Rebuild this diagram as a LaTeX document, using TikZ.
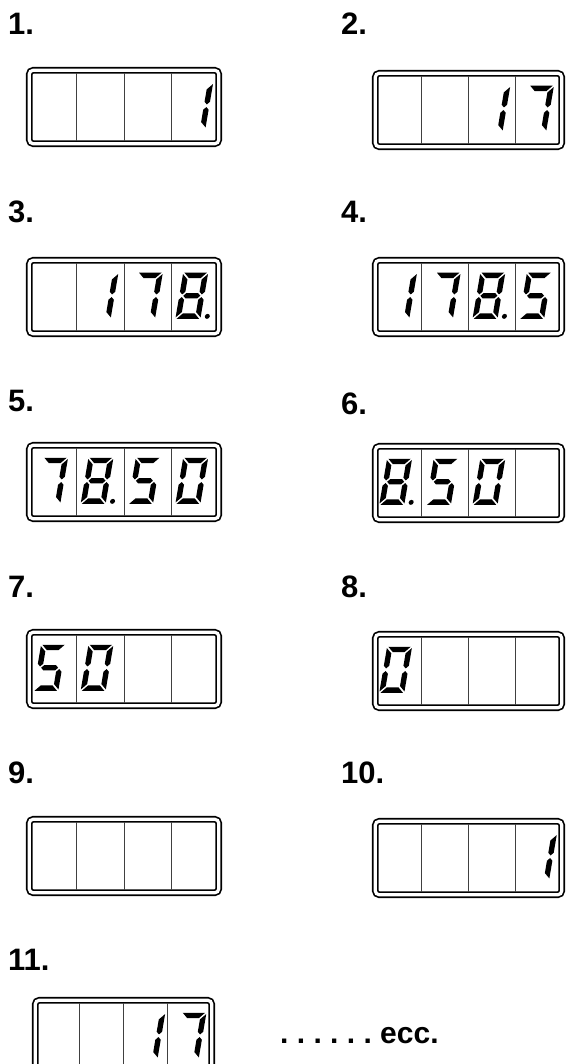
\documentclass[tikz,border=0pt]{standalone}
\usepackage{fontspec}
\setmainfont{Liberation Sans}
\usetikzlibrary{calc}

\tikzset{
  lcd/.style={draw, double, double distance=3.2pt, line width=1.7pt, rounded corners=4pt, minimum width=189.5pt, minimum height=73.5pt, inner sep=0pt, outer sep=0pt},
  cellsep/.style={line width=0.8pt, black!75, shorten <=3.2pt, shorten >=3.2pt},
  steplabel/.style={anchor=base west, inner sep=0pt, font=\fontsize{31}{37}\selectfont\bfseries},
}

% segments of one digit (local frame 25 x 46, mitred corners)
\newcommand\segA{\fill (1.3,46) -- (23.7,46) -- (18.3,40.6) -- (6.7,40.6) -- cycle;}
\newcommand\segD{\fill (1.3,0) -- (23.7,0) -- (18.3,5.4) -- (6.7,5.4) -- cycle;}
\newcommand\segG{\fill (4,23) -- (6.7,25.7) -- (18.3,25.7) -- (21,23) -- (18.3,20.3) -- (6.7,20.3) -- cycle;}
\newcommand\segF{\fill (0,44.7) -- (5.4,39.3) -- (5.4,27) -- (2.7,24.3) -- (0,27) -- cycle;}
\newcommand\segE{\fill (0,1.3) -- (5.4,6.7) -- (5.4,19) -- (2.7,21.7) -- (0,19) -- cycle;}
\newcommand\segB{\fill (25,44.7) -- (19.6,39.3) -- (19.6,27) -- (22.3,24.3) -- (25,27) -- cycle;}
\newcommand\segC{\fill (25,1.3) -- (19.6,6.7) -- (19.6,19) -- (22.3,21.7) -- (25,19) -- cycle;}
\newcommand\segP{\fill (31.5,2.4) circle (2.5);}

% box, cell, segments, extra shift
\newcommand\lcddigit[4]{%
  \pgfmathsetmacro\cellpos{(#2-1)/4}%
  \begin{scope}[shift={($(#1.south west)!\cellpos!(#1.south east)+(4+#4,15)$)}, xslant=0.17]
    \foreach \sg in {#3} {\csname seg\sg\endcsname}
  \end{scope}}
\newcommand\lcdcells[1]{%
  \foreach \i in {1,2,3}
    \draw[cellsep] ($(#1.south west)!\i/4!(#1.south east)$) -- ($(#1.north west)!\i/4!(#1.north east)$);}

\begin{document}
\begin{tikzpicture}[x=1pt, y=1pt]
\useasboundingbox (0,0) rectangle (566,-1064);
\clip (0,0) rectangle (566,-1064);

% step labels
\node[steplabel] (l1) at (8,-35) {1.};
\node[steplabel] (l2) at (341,-35) {2.};
\node[steplabel] (l3) at (8,-223) {3.};
\node[steplabel] (l4) at (341,-223) {4.};
\node[steplabel] (l5) at (8,-411) {5.};
\node[steplabel] (l6) at (341,-414) {6.};
\node[steplabel] (l7) at (8,-597) {7.};
\node[steplabel] (l8) at (341,-597) {8.};
\node[steplabel] (l9) at (8,-783) {9.};
\node[steplabel] (l10) at (341,-783) {10.};
\node[steplabel] (l11) at (8,-970) {11.};
\node[steplabel, font=\fontsize{30}{36}\selectfont\bfseries\frenchspacing] (etc) at (280,-1043) {. . . . . . ecc.};

% displays
\node[lcd] (d1) at (124,-107) {};
\node[lcd, minimum width=186.5pt] (d2) at (468.5,-110) {};
\node[lcd] (d3) at (124,-297) {};
\node[lcd, minimum width=186.5pt] (d4) at (468.5,-297) {};
\node[lcd] (d5) at (124,-482) {};
\node[lcd, minimum width=186.5pt] (d6) at (468.5,-483) {};
\node[lcd] (d7) at (124,-669) {};
\node[lcd, minimum width=186.5pt] (d8) at (468.5,-671) {};
\node[lcd] (d9) at (124,-856) {};
\node[lcd, minimum width=186.5pt] (d10) at (468.5,-858) {};
\node[lcd, minimum width=176.5pt] (d11) at (123.5,-1037) {};
\foreach \d in {d1,d2,d3,d4,d5,d6,d7,d8,d9,d10,d11} {\lcdcells{\d}}

% readings
\lcddigit{d1}{4}{B,C}{5}
\lcddigit{d2}{3}{B,C}{5}
\lcddigit{d2}{4}{A,B,C}{2}
\lcddigit{d3}{2}{B,C}{5}
\lcddigit{d3}{3}{A,B,C}{2}
\lcddigit{d3}{4}{A,B,C,D,E,F,G,P}{0}
\lcddigit{d4}{1}{B,C}{5}
\lcddigit{d4}{2}{A,B,C}{2}
\lcddigit{d4}{3}{A,B,C,D,E,F,G,P}{0}
\lcddigit{d4}{4}{A,F,G,C,D}{0}
\lcddigit{d5}{1}{A,B,C}{2}
\lcddigit{d5}{2}{A,B,C,D,E,F,G,P}{0}
\lcddigit{d5}{3}{A,F,G,C,D}{0}
\lcddigit{d5}{4}{A,B,C,D,E,F}{0}
\lcddigit{d6}{1}{A,B,C,D,E,F,G,P}{0}
\lcddigit{d6}{2}{A,F,G,C,D}{0}
\lcddigit{d6}{3}{A,B,C,D,E,F}{0}
\lcddigit{d7}{1}{A,F,G,C,D}{0}
\lcddigit{d7}{2}{A,B,C,D,E,F}{0}
\lcddigit{d8}{1}{A,B,C,D,E,F}{0}
\lcddigit{d10}{4}{B,C}{5}
\lcddigit{d11}{3}{B,C}{5}
\lcddigit{d11}{4}{A,B,C}{2}
\end{tikzpicture}
\end{document}
